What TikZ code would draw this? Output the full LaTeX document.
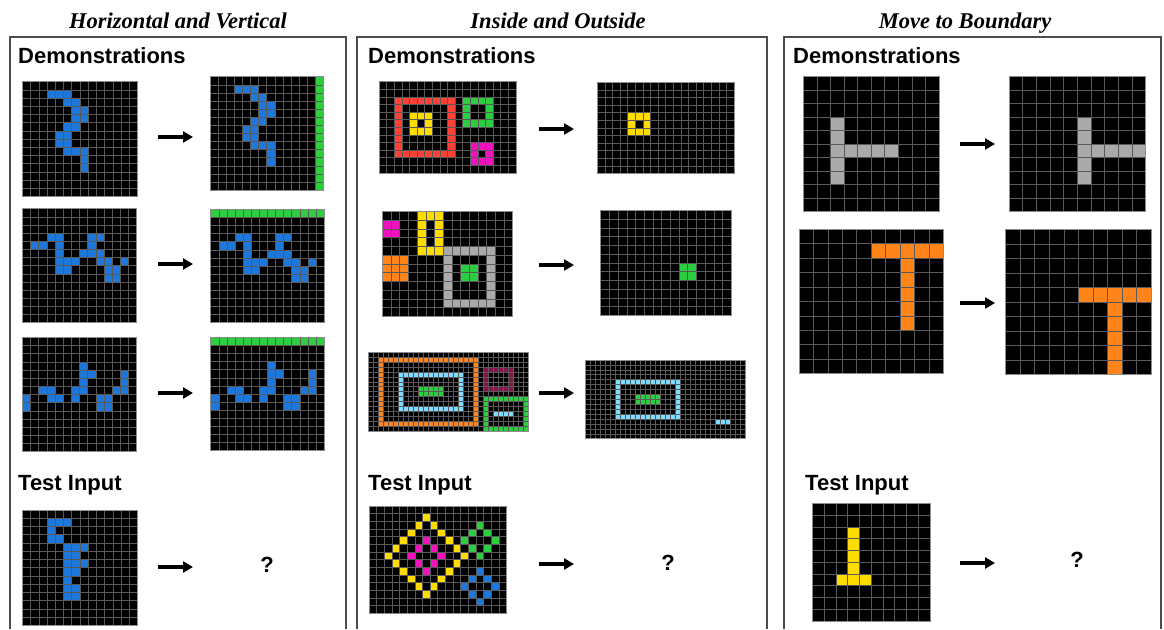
\documentclass[tikz,border=0pt]{standalone}
\usepackage{fontspec}
\setmainfont{Liberation Serif}
\setsansfont{Liberation Sans}
\usetikzlibrary{arrows.meta}
\definecolor{arcblue}{HTML}{1E78DC}
\definecolor{arcgreen}{HTML}{2ECC40}
\definecolor{arcred}{HTML}{FF4136}
\definecolor{arcyellow}{HTML}{FFDC00}
\definecolor{arcmag}{HTML}{F012BE}
\definecolor{arcorange}{HTML}{FF851B}
\definecolor{arcgray}{HTML}{AAAAAA}
\definecolor{arclblue}{HTML}{7FDBFF}
\definecolor{arcmaroon}{HTML}{85144B}
\newcommand\arcgrid[6]{%
  \def\gx{#1}\def\gy{#2}\def\gw{#3}\def\gh{#4}\def\gc{#5}\def\gr{#6}%
  \fill[black] (#1,#2) rectangle ({#1+#5*#3},{#2+#6*#4});}
\newcommand\arccells[2]{%
  \foreach \r/\c in {#2}{\fill[#1] ({\gx+\c*\gw},{\gy+\r*\gh}) rectangle ++(\gw,\gh);}}
\newcommand\arcrect[5]{% color r0 c0 r1 c1
  \fill[#1] ({\gx+#3*\gw},{\gy+#2*\gh}) rectangle ({\gx+(#5+1)*\gw},{\gy+(#4+1)*\gh});}
\newcommand\arcframe[5]{%
  \fill[#1] ({\gx+#3*\gw},{\gy+#2*\gh}) rectangle ({\gx+(#5+1)*\gw},{\gy+(#4+1)*\gh});
  \fill[black] ({\gx+(#3+1)*\gw},{\gy+(#2+1)*\gh}) rectangle ({\gx+#5*\gw},{\gy+#4*\gh});}
\newcommand\arclines{%
  \pgfmathtruncatemacro\gcm{\gc-1}\pgfmathtruncatemacro\grm{\gr-1}%
  \foreach \i in {1,...,\gcm}{\draw[gline] ({\gx+\i*\gw},\gy) -- ++(0,{\gr*\gh});}%
  \foreach \j in {1,...,\grm}{\draw[gline] (\gx,{\gy+\j*\gh}) -- ++({\gc*\gw},0);}%
  \draw[gborder] (\gx,\gy) rectangle ({\gx+\gc*\gw},{\gy+\gr*\gh});}
\begin{document}
\begin{tikzpicture}[x=1pt,y=-1pt,
  gline/.style={draw=black!65, line width=0.55pt},
  gborder/.style={draw=black!45, line width=0.8pt},
  panel/.style={draw=black!70, line width=1.1pt},
  arr/.style={line width=3.2pt, -{Triangle[length=10pt,width=11pt]}},
  ttl/.style={font=\fontsize{22.5}{24}\selectfont\bfseries\itshape, inner sep=0pt, anchor=base},
  head/.style={font=\sffamily\bfseries\fontsize{22}{24}\selectfont, anchor=base west, inner sep=0pt},
  qm/.style={font=\sffamily\bfseries\fontsize{22}{24}\selectfont, inner sep=0pt}]
\useasboundingbox (0,0) rectangle (1164,629);
\fill[white] (0,0) rectangle (1164,629);
% titles
\node[ttl] (t1) at (178,28) {Horizontal and Vertical};
\node[ttl] (t2) at (558,28) {Inside and Outside};
\node[ttl] (t3) at (965,28) {Move to Boundary};
% panels
\draw[panel] (10,629) -- (10,37) -- (346,37) -- (346,629);
\draw[panel] (357,629) -- (357,37) -- (767,37) -- (767,629);
\draw[panel] (784,629) -- (784,37) -- (1161,37) -- (1161,629);
% headings
\node[head] (h1) at (18,63) {Demonstrations};
\node[head] (h2) at (368,63) {Demonstrations};
\node[head] (h3) at (793,63) {Demonstrations};
\node[head] (i1) at (18,490) {Test Input};
\node[head] (i2) at (368,490) {Test Input};
\node[head] (i3) at (805,490) {Test Input};
% ---------------- panel 1
\arcgrid{22.3}{81.7}{8.24}{8.2}{14}{14}
\arccells{arcblue}{1/3,1/4,1/5,2/5,2/6,3/6,3/7,4/6,4/7,5/5,5/6,6/4,6/5,7/4,7/5,8/5,8/6,8/7,9/7,10/7}
\arclines
\arcgrid{210}{76.7}{8.1}{8.1}{14}{14}
\arccells{arcblue}{1/3,1/4,1/5,2/5,2/6,3/6,3/7,4/6,4/7,5/5,5/6,6/4,6/5,7/4,7/5,8/5,8/6,8/7,9/7,10/7}
\arcrect{arcgreen}{0}{13}{13}{13}
\arclines
\arcgrid{22.3}{208.7}{8.17}{8.15}{14}{14}
\arccells{arcblue}{3/3,3/4,3/8,3/9,4/1,4/2,4/4,4/8,5/4,5/7,5/8,5/9,6/4,6/5,6/6,6/9,6/10,6/12,7/4,7/5,7/10,7/11,8/10,8/11}
\arclines
\arcgrid{210.7}{209.3}{8.1}{8.1}{14}{14}
\arccells{arcblue}{3/3,3/4,3/8,3/9,4/1,4/2,4/4,4/8,5/4,5/7,5/8,5/9,6/4,6/5,6/6,6/9,6/10,6/12,7/4,7/5,7/10,7/11,8/10,8/11}
\arcrect{arcgreen}{0}{0}{0}{13}
\arclines
\arcgrid{22.3}{337.3}{8.17}{8.17}{14}{14}
\arccells{arcblue}{3/7,4/7,4/8,5/7,6/6,6/7,7/6,4/12,5/12,6/11,6/12,6/2,6/3,7/3,7/4,7/0,8/0,7/9,7/10,8/9,8/10}
\arclines
\arcgrid{210.7}{337.3}{8.1}{8.1}{14}{14}
\arccells{arcblue}{3/7,4/7,4/8,5/7,6/6,6/7,7/6,4/12,5/12,6/11,6/12,6/2,6/3,7/3,7/4,7/0,8/0,7/9,7/10,8/9,8/10}
\arcrect{arcgreen}{0}{0}{0}{13}
\arclines
\arcgrid{22.3}{510}{8.24}{8.24}{14}{14}
\arccells{arcblue}{1/3,1/4,1/5,2/3,3/3,3/4,4/5,4/6,4/7,5/5,5/6,6/5,6/6,6/7,7/5,7/6,8/5,9/5,9/6,10/5,10/6}
\arclines
% arrows panel 1
\coordinate (a1s) at (158,137); \coordinate (a1e) at (193,137);
\coordinate (a2s) at (158,264); \coordinate (a2e) at (193,264);
\coordinate (a3s) at (158,393); \coordinate (a3e) at (193,393);
\coordinate (a4s) at (158,567); \coordinate (a4e) at (193,567);
\draw[arr] (a1s) -- (a1e); \draw[arr] (a2s) -- (a2e);
\draw[arr] (a3s) -- (a3e); \draw[arr] (a4s) -- (a4e);
\node[qm] (q1) at (267,565) {?};
% ---------------- panel 2
\arcgrid{379}{81.7}{7.61}{7.6}{18}{12}
\arcframe{arcred}{2}{2}{9}{9}
\arcframe{arcyellow}{4}{4}{6}{6}
\arcframe{arcgreen}{2}{11}{5}{14}
\arcframe{arcmag}{8}{12}{10}{14}
\arclines
\arcgrid{597.3}{82.3}{7.6}{7.6}{18}{12}
\arcframe{arcyellow}{4}{4}{6}{6}
\arclines
\arcgrid{382.3}{211.3}{8.7}{8.75}{15}{12}
\arcrect{arcmag}{1}{0}{2}{1}
\arcframe{arcyellow}{0}{4}{4}{6}
\arcrect{arcorange}{5}{0}{7}{2}
\arcframe{arcgray}{4}{7}{10}{12}
\arcrect{arcgreen}{6}{9}{7}{10}
\arclines
\arcgrid{600.7}{210.3}{8.7}{8.75}{15}{12}
\arcrect{arcgreen}{6}{9}{7}{10}
\arclines
\arcgrid{368.3}{352.3}{5.0}{4.92}{32}{16}
\arcframe{arcorange}{1}{2}{14}{21}
\arcframe{arclblue}{4}{6}{11}{18}
\arcrect{arcgreen}{7}{10}{8}{14}
\arcframe{arcmaroon}{3}{23}{7}{28}
\arcframe{arcgreen}{9}{23}{15}{31}
\arcrect{arclblue}{12}{25}{12}{28}
\arclines
\arcgrid{585}{360}{5.0}{4.92}{32}{16}
\arcframe{arclblue}{4}{6}{11}{18}
\arcrect{arcgreen}{7}{10}{8}{14}
\arcrect{arclblue}{12}{26}{12}{28}
\arclines
\arcgrid{369}{506}{7.64}{7.66}{18}{14}
\arccells{arcyellow}{1/7,2/6,2/8,3/5,3/9,4/4,4/10,5/3,5/11,6/2,6/12,7/3,7/11,8/4,8/10,9/5,9/9,10/6,10/8,11/7}
\arccells{arcmag}{4/7,5/6,5/8,6/5,6/9,7/6,7/8,8/7}
\arccells{arcgreen}{2/14,3/13,3/15,4/12,4/16,5/13,5/15,6/14}
\arccells{arcblue}{8/14,9/13,9/15,10/12,10/16,11/13,11/15,12/14}
\arclines
\coordinate (b1s) at (539,129); \coordinate (b1e) at (574,129);
\coordinate (b2s) at (539,265); \coordinate (b2e) at (574,265);
\coordinate (b3s) at (539,393); \coordinate (b3e) at (574,393);
\coordinate (b4s) at (539,564); \coordinate (b4e) at (574,564);
\draw[arr] (b1s) -- (b1e); \draw[arr] (b2s) -- (b2e);
\draw[arr] (b3s) -- (b3e); \draw[arr] (b4s) -- (b4e);
\node[qm] (q2) at (668,563) {?};
% ---------------- panel 3
\arcgrid{803.3}{76.7}{13.57}{13.5}{10}{10}
\arcrect{arcgray}{3}{2}{7}{2}
\arcrect{arcgray}{5}{3}{5}{6}
\arclines
\arcgrid{1009}{76.7}{13.67}{13.5}{10}{10}
\arcrect{arcgray}{3}{5}{7}{5}
\arcrect{arcgray}{5}{6}{5}{9}
\arclines
\arcgrid{799}{229.3}{14.43}{14.43}{10}{10}
\arcrect{arcorange}{1}{5}{1}{9}
\arcrect{arcorange}{2}{7}{6}{7}
\arclines
\arcgrid{1005.7}{229.3}{14.53}{14.53}{10}{10}
\arcrect{arcorange}{4}{5}{4}{9}
\arcrect{arcorange}{5}{7}{9}{7}
\arclines
\arcgrid{812.3}{503.3}{11.77}{11.77}{10}{10}
\arcrect{arcyellow}{2}{3}{6}{3}
\arcrect{arcyellow}{6}{2}{6}{4}
\arclines
\coordinate (c1s) at (960,144); \coordinate (c1e) at (995,144);
\coordinate (c2s) at (960,303); \coordinate (c2e) at (995,303);
\coordinate (c3s) at (960,563); \coordinate (c3e) at (995,563);
\draw[arr] (c1s) -- (c1e); \draw[arr] (c2s) -- (c2e); \draw[arr] (c3s) -- (c3e);
\node[qm] (q3) at (1077,560) {?};
\end{tikzpicture}
\end{document}
